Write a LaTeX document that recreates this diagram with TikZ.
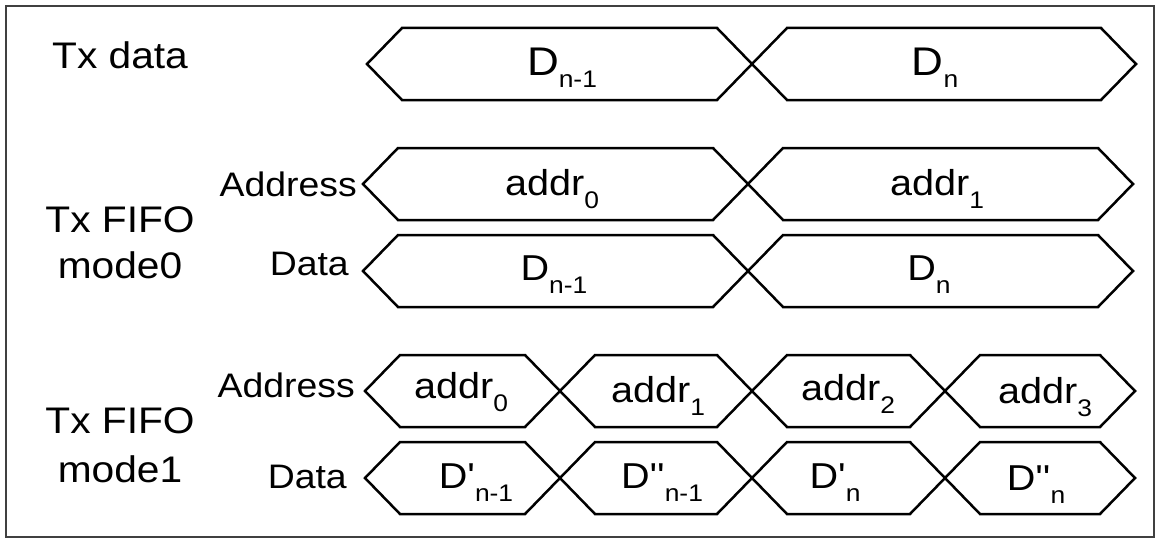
\documentclass[tikz,border=0pt]{standalone}
\usepackage{fontspec}
\setmainfont{Liberation Sans}[FakeStretch=1.1, Ligatures=TeXOff]
\newcommand\sublow[1]{\lower13pt\hbox{\fontsize{24}{24}\selectfont #1}}
\newcommand\busseg[3]{\draw[busline] (#1,#3) -- ({#1+35},{#3-36}) -- ({#2-35},{#3-36}) -- (#2,#3) -- ({#2-35},{#3+36}) -- ({#1+35},{#3+36}) -- cycle;}
\begin{document}
\begin{tikzpicture}[x=1pt,y=-1pt,
  busline/.style={line width=2.5pt, black},
  rowlabel/.style={anchor=base, inner sep=0pt, font=\fontsize{37}{37}\selectfont},
  siglabel/.style={anchor=base east, inner sep=0pt, font=\fontsize{34}{34}\selectfont},
  segtext/.style={anchor=base, inner sep=0pt, font=\fontsize{36}{36}\selectfont},
  bigsegtext/.style={anchor=base, inner sep=0pt, font=\fontsize{40}{40}\selectfont}]
\useasboundingbox (0,0) rectangle (1161,543);
\draw[black!75, line width=1.5pt] (6,6) rectangle (1154,537);

% row labels
\node[rowlabel] (txdata) at (120,68) {Tx data};
\node[rowlabel] (fifo0a) at (120,232) {Tx FIFO};
\node[rowlabel] (fifo0b) at (120,278) {mode0};
\node[rowlabel] (fifo1a) at (120,433) {Tx FIFO};
\node[rowlabel] (fifo1b) at (120,482) {mode1};

\node[siglabel] (addr0lbl) at (357,196) {Address};
\node[siglabel] (data0lbl) at (349,275) {Data};
\node[siglabel] (addr1lbl) at (355,397) {Address};
\node[siglabel] (data1lbl) at (347,488) {Data};

% row 1: Tx data
\busseg{367}{752}{64}
\busseg{752}{1136}{64}
\node[bigsegtext] (r1a) at (562,75) {D\sublow{n-1}};
\node[bigsegtext] (r1b) at (935,75) {D\sublow{n}};

% row 2: mode0 address
\busseg{363}{748}{184}
\busseg{748}{1133}{184}
\node[segtext] (r2a) at (552,195) {addr\sublow{0}};
\node[segtext] (r2b) at (937,195) {addr\sublow{1}};

% row 3: mode0 data
\busseg{363}{748}{271}
\busseg{748}{1133}{271}
\node[segtext] (r3a) at (554,280) {D\sublow{n-1}};
\node[segtext] (r3b) at (929,280) {D\sublow{n}};

% row 4: mode1 address
\busseg{365}{560}{391}
\busseg{560}{752}{391}
\busseg{752}{945}{391}
\busseg{945}{1135}{391}
\node[segtext] (r4a) at (461,398) {addr\sublow{0}};
\node[segtext] (r4b) at (658,402) {addr\sublow{1}};
\node[segtext] (r4c) at (848,400) {addr\sublow{2}};
\node[segtext] (r4d) at (1045,403) {addr\sublow{3}};

% row 5: mode1 data
\busseg{365}{560}{478}
\busseg{560}{752}{478}
\busseg{752}{945}{478}
\busseg{945}{1135}{478}
\node[segtext] (r5a) at (476,488) {D'\sublow{n-1}};
\node[segtext] (r5b) at (662,488) {D''\sublow{n-1}};
\node[segtext] (r5c) at (835,488) {D'\sublow{n}};
\node[segtext] (r5d) at (1036,490) {D''\sublow{n}};
\end{tikzpicture}
\end{document}
